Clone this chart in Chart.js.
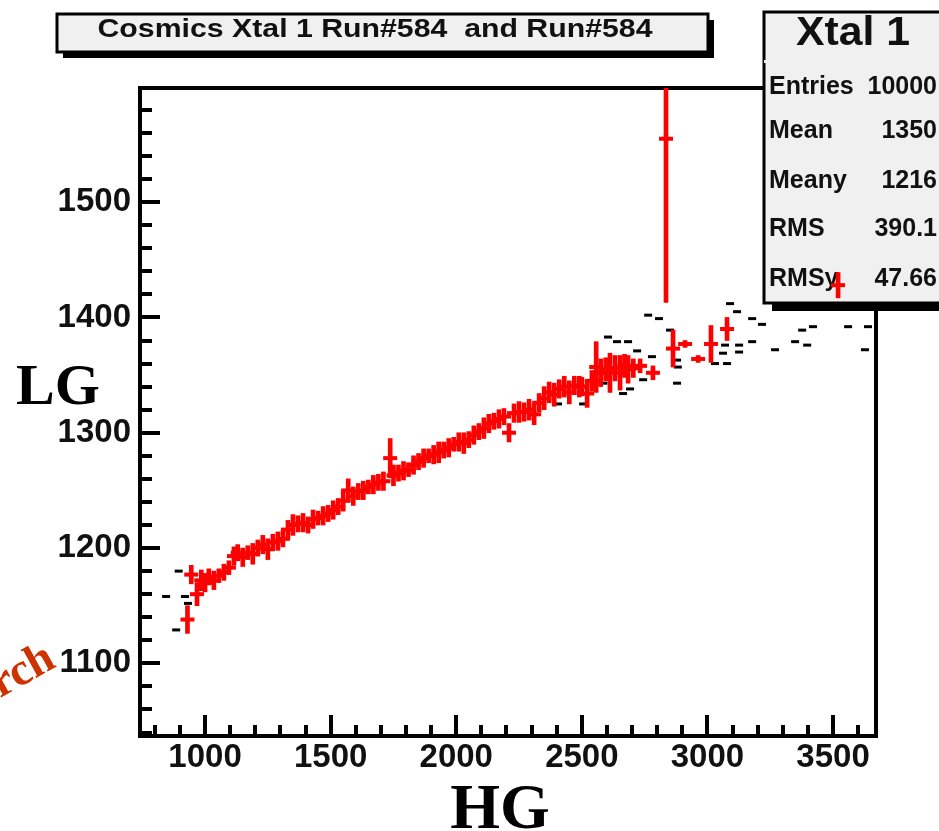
<!DOCTYPE html>
<html>
<head>
<meta charset="utf-8">
<script src="https://cdn.jsdelivr.net/npm/chart.js@4/dist/chart.umd.min.js"></script>
<style>
  html, body { margin: 0; padding: 0; background: #fff; }
  #wrap { position: relative; width: 939px; height: 831px; }
</style>
</head>
<body>
<div id="wrap"><canvas id="plot"></canvas></div>
<script>
// Axis ranges and ticks
const X_MIN = 741, X_MAX = 3671;
const Y_MIN = 1037, Y_MAX = 1599;
const X_TICKS = [1000, 1500, 2000, 2500, 3000, 3500];
const Y_TICKS = [1100, 1200, 1300, 1400, 1500];

// Profile (red): HG bin centre, mean LG, error on LG
const PROF_HG = [930, 945, 968, 985, 1000, 1015, 1035, 1055, 1075, 1095, 1115, 1130, 1150, 1170, 1190,
  1210, 1230, 1250, 1270, 1290, 1310, 1330, 1350, 1370, 1390, 1410, 1430, 1450, 1470, 1490,
  1510, 1530, 1550, 1570, 1590, 1610, 1630, 1650, 1670, 1690, 1710, 1737, 1750, 1770, 1790,
  1810, 1830, 1850, 1870, 1890, 1910, 1930, 1950, 1970, 1990, 2010, 2030, 2050, 2070, 2090,
  2110, 2130, 2150, 2170, 2190, 2210, 2230, 2250, 2270, 2290, 2310, 2330, 2350, 2370, 2390,
  2410, 2430, 2450, 2470, 2490, 2500, 2521, 2540, 2557, 2575, 2595, 2612, 2632, 2652, 2670,
  2684, 2705, 2732, 2783, 2835, 2863, 2911, 2963, 3014, 3078, 3520];
const PROF_LG = [1138, 1177, 1160, 1172, 1170, 1175, 1172, 1176, 1179, 1183, 1193, 1196, 1192, 1196, 1195,
  1200, 1203, 1199, 1205, 1206, 1208, 1216, 1220, 1221, 1222, 1220, 1225, 1226, 1228, 1230,
  1233, 1236, 1241, 1250, 1245, 1249, 1250, 1253, 1255, 1257, 1258, 1278, 1263, 1265, 1267,
  1268, 1272, 1275, 1278, 1280, 1281, 1283, 1285, 1287, 1290, 1292, 1291, 1294, 1298, 1301,
  1304, 1308, 1310, 1312, 1314, 1300, 1317, 1318, 1318, 1320, 1316, 1326, 1330, 1335, 1333,
  1338, 1340, 1335, 1341, 1340, 1340, 1334, 1345, 1357, 1352, 1355, 1352, 1356, 1352, 1358,
  1355, 1356, 1358, 1352, 1555, 1373, 1377, 1364, 1377, 1390, 1428];
const PROF_ERR = [12, 8, 10, 9, 8, 7, 8, 6, 7, 6, 8, 7, 8, 6, 9,
  7, 8, 9, 7, 8, 7, 8, 9, 7, 8, 7, 8, 6, 8, 7,
  8, 7, 9, 10, 8, 7, 8, 6, 8, 7, 8, 17, 9, 7, 8,
  6, 8, 7, 8, 6, 8, 9, 7, 8, 6, 8, 9, 7, 8, 7,
  9, 8, 7, 8, 7, 8, 8, 9, 8, 9, 9, 8, 10, 9, 10,
  8, 9, 10, 8, 9, 8, 12, 9, 22, 12, 10, 17, 11, 15, 10,
  12, 8, 6, 6, 142, 16, 3, 3, 16, 10, 11];

// Scatter (black) bins seen outside the red band
const SCAT_HG = [845, 920, 885, 895, 932, 2764, 2807, 2851, 2604, 2640, 2684, 3090, 3118, 3178, 3217,
  3070, 3126, 3126, 3178, 3269, 3377, 3420, 3349, 3397, 3560, 3639, 3627, 3062, 3078, 3030,
  2879, 2879, 2779, 2744, 2692, 2664, 2720, 2505, 2505, 2405, 2586, 2882, 2720];
const SCAT_LG = [1158, 1158, 1129, 1180, 1152, 1402, 1399, 1389, 1383, 1379, 1379, 1412, 1405, 1399, 1394,
  1376, 1376, 1370, 1379, 1372, 1389, 1392, 1379, 1376, 1392, 1392, 1372, 1369, 1360, 1360,
  1363, 1343, 1366, 1346, 1338, 1334, 1356, 1340, 1325, 1325, 1343, 1357, 1371];

// Stats box
const STAT_NAMES = ["Entries", "Mean", "Meany", "RMS", "RMSy"];
const STAT_VALUES = ["10000", "1350", "1216", "390.1", "47.66"];

const RED = "rgb(255,0,0)";

function drawBox(ctx, x, y, w, h, shadow) {
    ctx.fillStyle = "#000";
    ctx.fillRect(x + shadow, y + shadow, w, h);
    ctx.fillStyle = "#f0f0f0";
    ctx.fillRect(x, y, w, h);
    ctx.strokeStyle = "#000";
    ctx.lineWidth = 3;
    ctx.strokeRect(x, y, w, h);
}

// text squeezed / stretched to a given width
function fitText(ctx, txt, cx, cy, width) {
    const w = ctx.measureText(txt).width;
    ctx.save();
    ctx.translate(cx, cy);
    ctx.scale(width / w, 1);
    ctx.textAlign = "center";
    ctx.fillText(txt, 0, 0);
    ctx.restore();
}

// Frame, inside ticks, title box and stats box
const decorations = {
    id: "decorations",
    beforeDatasetsDraw(chart) {
        const ctx = chart.ctx;
        const xs = chart.scales.x, ys = chart.scales.y;
        const a = chart.chartArea;
        ctx.save();
        ctx.fillStyle = "#000";
        for (let v = 800; v <= 3600; v += 100) {
            const px = Math.round(xs.getPixelForValue(v));
            const len = v % 500 === 0 ? 21 : 11;
            ctx.fillRect(px - 2, a.bottom - len, 4, len);
        }
        for (let v = 1040; v <= 1580; v += 20) {
            const py = Math.round(ys.getPixelForValue(v));
            const len = v % 100 === 0 ? 20 : 12;
            ctx.fillRect(a.left, py - 2, len, 4);
        }
        ctx.lineWidth = 4;
        ctx.strokeStyle = "#000";
        ctx.strokeRect(a.left, a.top, a.right - a.left, a.bottom - a.top);

        // title box
        drawBox(ctx, 57, 14, 651, 38, 6);
        ctx.fillStyle = "#111";
        ctx.font = "bold 26px 'Liberation Sans', Arial, sans-serif";
        ctx.textBaseline = "middle";
        fitText(ctx, "Cosmics Xtal 1 Run#584  and Run#584", 375, 30, 555);

        // stats box
        drawBox(ctx, 764, 12, 200, 291, 8);
        ctx.fillRect(764, 60, 200, 3);
        ctx.fillStyle = "#111";
        ctx.font = "bold 40px 'Liberation Sans', Arial, sans-serif";
        fitText(ctx, "Xtal 1", 853, 34, 114);
        ctx.font = "bold 25px 'Liberation Sans', Arial, sans-serif";
        const rowY = [87, 131, 181, 229, 279];
        STAT_NAMES.forEach((n, i) => {
            ctx.textAlign = "left";
            ctx.fillText(n, 769, rowY[i]);
            ctx.textAlign = "right";
            ctx.fillText(STAT_VALUES[i], 937, rowY[i]);
        });
        ctx.restore();
    },
    afterDraw(chart) {
        const ctx = chart.ctx;
        ctx.save();
        ctx.fillStyle = "#000";
        ctx.textAlign = "center";
        ctx.textBaseline = "alphabetic";
        ctx.font = "bold 58px 'Liberation Serif', 'Times New Roman', serif";
        ctx.fillText("LG", 58, 404);
        ctx.font = "bold 64px 'Liberation Serif', 'Times New Roman', serif";
        ctx.fillText("HG", 500, 828);
        ctx.translate(0, 698);
        ctx.rotate(-29 * Math.PI / 180);
        ctx.fillStyle = "#cc3300";
        ctx.textAlign = "left";
        ctx.font = "bold 46px 'Liberation Serif', 'Times New Roman', serif";
        ctx.fillText("rch", 0, 0);
        ctx.restore();
    }
};

const profBars = PROF_HG.map((x, i) => ({ x: x, y: [PROF_LG[i] - PROF_ERR[i], PROF_LG[i] + PROF_ERR[i]] }));
const profMeans = PROF_HG.map((x, i) => ({ x: x, y: PROF_LG[i] }));
const scatPts = SCAT_HG.map((x, i) => ({ x: x, y: SCAT_LG[i] }));

const tickFont = { family: "'Liberation Sans', Arial, sans-serif", size: 33, weight: "bold" };

new Chart(document.getElementById("plot"), {
    type: "scatter",
    data: {
        datasets: [
            {
                type: "scatter",
                data: scatPts,
                pointStyle: "line",
                radius: 4,
                borderWidth: 3,
                borderColor: "#000",
                backgroundColor: "#000",
                order: 3
            },
            {
                type: "bar",
                data: profBars,
                backgroundColor: RED,
                borderWidth: 0,
                barThickness: 4,
                grouped: false,
                order: 2
            },
            {
                type: "scatter",
                data: profMeans,
                pointStyle: "line",
                radius: 7,
                borderWidth: 4,
                borderColor: RED,
                backgroundColor: RED,
                order: 1
            }
        ]
    },
    options: {
        responsive: true,
        maintainAspectRatio: false,
        animation: false,
        events: [],
        layout: { padding: { left: 0, right: 63, top: 88, bottom: 0 } },
        plugins: { legend: { display: false }, tooltip: { enabled: false } },
        scales: {
            x: {
                type: "linear",
                min: X_MIN,
                max: X_MAX,
                offset: false,
                grid: { display: false, drawTicks: false },
                border: { display: false },
                afterBuildTicks: s => { s.ticks = X_TICKS.map(v => ({ value: v })); },
                afterFit: s => { s.height = 95; },
                ticks: { color: "#111", font: tickFont, padding: 2, maxRotation: 0, autoSkip: false,
                         callback: v => String(v) }
            },
            y: {
                type: "linear",
                min: Y_MIN,
                max: Y_MAX,
                grid: { display: false, drawTicks: false },
                border: { display: false },
                afterBuildTicks: s => { s.ticks = Y_TICKS.map(v => ({ value: v })); },
                afterFit: s => { s.width = 140; },
                ticks: { color: "#111", font: tickFont, padding: 9, autoSkip: false,
                         callback: v => String(v) }
            }
        }
    },
    plugins: [decorations]
});
</script>
</body>
</html>
